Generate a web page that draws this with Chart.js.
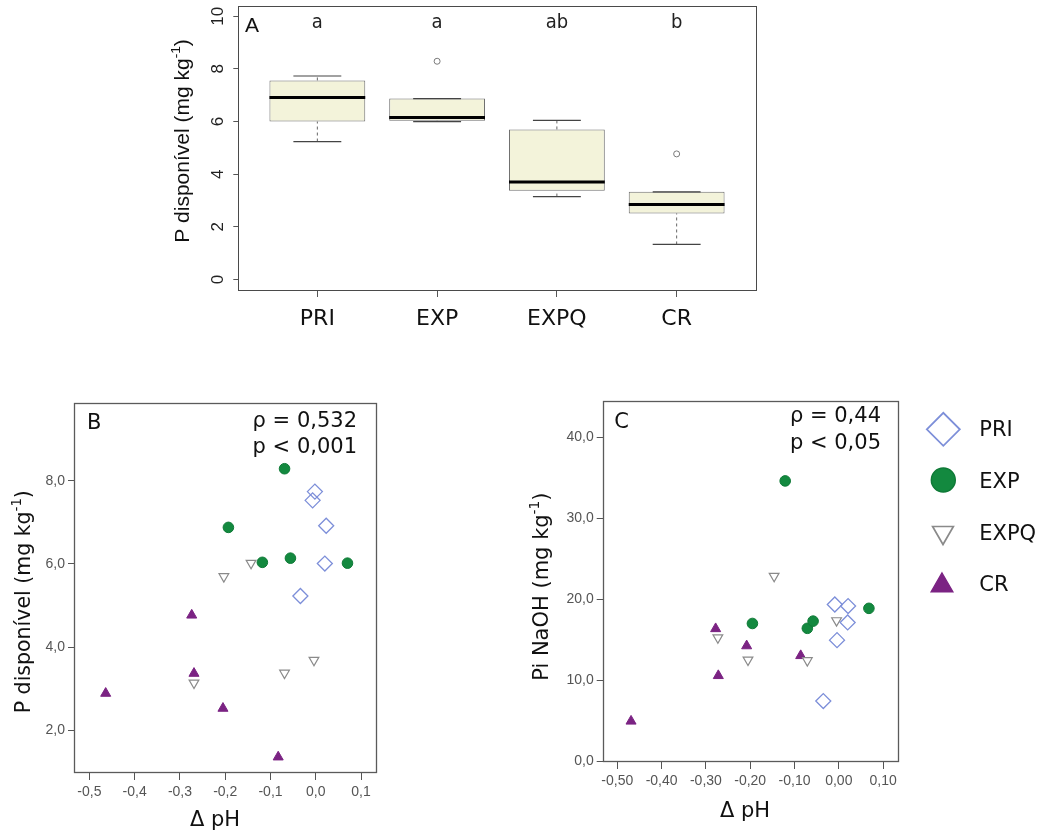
<!DOCTYPE html>
<html><head><meta charset="utf-8">
<script src="https://cdn.jsdelivr.net/npm/chart.js@4/dist/chart.umd.min.js"></script>
<style>
html,body{margin:0;padding:0;background:#fff;width:1042px;height:836px;overflow:hidden;position:relative}
canvas{position:absolute}
</style></head><body>
<canvas id="cA" width="630" height="345" style="left:150px;top:0px;width:630px;height:345px"></canvas>
<canvas id="cB" width="400" height="446" style="left:0px;top:390px;width:400px;height:446px"></canvas>
<canvas id="cC" width="522" height="446" style="left:520px;top:390px;width:522px;height:446px"></canvas>
<script>
// ---------------- data ----------------
const groups   = ['PRI', 'EXP', 'EXPQ', 'CR'];
const boxMin   = [5.24, 6.00, 3.15, 1.33];
const boxQ1    = [6.00, 6.03, 3.37, 2.51];
const boxMed   = [6.91, 6.15, 3.70, 2.85];
const boxQ3    = [7.56, 6.87, 5.70, 3.33];
const boxMax   = [7.73, 6.87, 6.04, 3.33];
const outliers = [[], [8.29], [], [4.77]];
const letters  = ['a', 'a', 'ab', 'b'];
const aYTicks  = [0, 2, 4, 6, 8, 10];

// panel B: delta pH vs P disponivel
const bPRI  = [[-0.002, 7.74], [-0.007, 7.53], [0.023, 6.92], [0.020, 6.01], [-0.034, 5.23]];
const bEXP  = [[-0.069, 8.29], [-0.193, 6.88], [-0.118, 6.04], [-0.056, 6.14], [0.070, 6.02]];
const bEXPQ = [[-0.143, 6.02], [-0.203, 5.70], [-0.269, 3.14], [-0.069, 3.38], [-0.004, 3.69]];
const bCR   = [[-0.274, 4.77], [-0.269, 3.37], [-0.464, 2.89], [-0.205, 2.53], [-0.083, 1.36]];
const bXTicks = [-0.5, -0.4, -0.3, -0.2, -0.1, 0, 0.1];
const bYTicks = [2, 4, 6, 8];

// panel C: delta pH vs Pi NaOH
const cPRI  = [[-0.009, 19.35], [0.021, 19.15], [0.020, 17.13], [-0.004, 14.94], [-0.035, 7.41]];
const cEXP  = [[-0.121, 34.62], [-0.195, 17.00], [-0.071, 16.40], [-0.058, 17.29], [0.068, 18.87]];
const cEXPQ = [[-0.146, 22.85], [-0.273, 15.25], [-0.205, 12.50], [-0.071, 12.42], [-0.005, 17.36]];
const cCR   = [[-0.278, 16.35], [-0.272, 10.55], [-0.208, 14.23], [-0.086, 13.02], [-0.469, 4.92]];
const cXTicks = [-0.5, -0.4, -0.3, -0.2, -0.1, 0, 0.1];
const cYTicks = [0, 10, 20, 30, 40];

const bStats = ['ρ = 0,532', 'p < 0,001'];
const cStats = ['ρ = 0,44', 'p < 0,05'];

// ---------------- helpers ----------------
const BOX_HALF = 0.4, CAP_HALF = 0.2;
const SANS = '"DejaVu Sans", Verdana, sans-serif';
const ARIAL = '"Liberation Sans", Arial, sans-serif';
const NARROW = '"Liberation Sans Narrow", "DejaVu Sans Condensed", sans-serif';

function fmt(v, d) { return (v < 0 ? '-' : '') + Math.abs(v).toFixed(d).replace('.', ','); }
function fixedTicks(arr) { return s => { s.ticks = arr.map(v => ({ value: v })); }; }
function pts(a) { return a.map(p => ({ x: p[0], y: p[1] })); }

function vTitle(ctx, x, cy, main, sup, tail, size, family, color) {
  ctx.save();
  ctx.translate(x, cy); ctx.rotate(-Math.PI / 2);
  const big = size + 'px ' + family, small = (size * 0.65) + 'px ' + family;
  ctx.font = big; const w1 = ctx.measureText(main).width, w3 = ctx.measureText(tail).width;
  ctx.font = small; const w2 = ctx.measureText(sup).width;
  let px = -(w1 + w2 + w3) / 2;
  ctx.fillStyle = color; ctx.textBaseline = 'alphabetic'; ctx.textAlign = 'left';
  ctx.font = big; ctx.fillText(main, px, 0); px += w1;
  ctx.font = small; ctx.fillText(sup, px, -size * 0.42); px += w2;
  ctx.font = big; ctx.fillText(tail, px, 0);
  ctx.restore();
}
function frame(ctx, a, color, lw) {
  ctx.save(); ctx.strokeStyle = color; ctx.lineWidth = lw;
  ctx.strokeRect(Math.round(a.left) + 0.5, Math.round(a.top) + 0.5,
                 Math.round(a.right) - Math.round(a.left), Math.round(a.bottom) - Math.round(a.top));
  ctx.restore();
}
function text(ctx, s, x, y, font, align, color) {
  ctx.save(); ctx.font = font; ctx.textAlign = align; ctx.textBaseline = 'alphabetic';
  ctx.fillStyle = color; ctx.fillText(s, x, y); ctx.restore();
}

// ---------------- panel A : boxplot ----------------
const medianSegs = groups.flatMap((g, i) => [
  { x: i + 1 - BOX_HALF, y: boxMed[i] }, { x: i + 1 + BOX_HALF, y: boxMed[i] }, { x: i + 1, y: null }]);
const whiskerSegs = groups.flatMap((g, i) => [
  { x: i + 1, y: boxQ3[i] }, { x: i + 1, y: boxMax[i] }, { x: i + 1, y: null },
  { x: i + 1, y: boxMin[i] }, { x: i + 1, y: boxQ1[i] }, { x: i + 1, y: null }]);
const capSegs = groups.flatMap((g, i) => [
  { x: i + 1 - CAP_HALF, y: boxMax[i] }, { x: i + 1 + CAP_HALF, y: boxMax[i] }, { x: i + 1, y: null },
  { x: i + 1 - CAP_HALF, y: boxMin[i] }, { x: i + 1 + CAP_HALF, y: boxMin[i] }, { x: i + 1, y: null }]);
const outlierPts = groups.flatMap((g, i) => outliers[i].map(v => ({ x: i + 1, y: v })));

const plugA = {
  id: 'plugA',
  afterDraw(chart) {
    const ctx = chart.ctx, a = chart.chartArea, ys = chart.scales.y, xs = chart.scales.x;
    frame(ctx, a, '#4a4a4a', 1);
    ctx.save();
    ctx.font = '17px ' + ARIAL; ctx.fillStyle = '#222'; ctx.textAlign = 'center'; ctx.textBaseline = 'middle';
    aYTicks.forEach(v => {
      ctx.save(); ctx.translate(68.5, ys.getPixelForValue(v)); ctx.rotate(-Math.PI / 2);
      ctx.fillText(String(v), 0, 0); ctx.restore();
    });
    ctx.restore();
    letters.forEach((l, i) => text(ctx, l, xs.getPixelForValue(i + 1), 28, '20px ' + NARROW, 'center', '#222'));
    text(ctx, 'A', 95, 31.5, '21px ' + ARIAL, 'left', '#111');
    vTitle(ctx, 39, 141, 'P disponível (mg kg', '-1', ')', 21, ARIAL, '#111');
  }
};

new Chart(document.getElementById('cA'), {
  type: 'bar',
  data: {
    datasets: [
      { type: 'line', data: medianSegs, borderColor: '#000', borderWidth: 3, pointRadius: 0, spanGaps: false, order: 0 },
      { type: 'scatter', data: outlierPts, pointStyle: 'circle', pointRadius: 3, pointBackgroundColor: '#fff',
        pointBorderColor: '#7a7a7a', pointBorderWidth: 1, order: 1 },
      { type: 'line', data: capSegs, borderColor: '#444', borderWidth: 1.2, pointRadius: 0, spanGaps: false, order: 2 },
      { type: 'line', data: whiskerSegs, borderColor: '#666', borderWidth: 1, borderDash: [3, 3], pointRadius: 0, spanGaps: false, order: 3 },
      { type: 'bar', data: groups.map((g, i) => ({ x: i + 1, y: [boxQ1[i], boxQ3[i]] })),
        backgroundColor: '#F3F3DA', borderColor: '#6e6e6e', borderWidth: 1, borderSkipped: false,
        barPercentage: 0.8, categoryPercentage: 1, grouped: false, order: 4 }
    ]
  },
  options: {
    responsive: false, animation: false, events: [],
    layout: { padding: { left: 0, right: 24.3, top: 5.7, bottom: 0 } },
    plugins: { legend: { display: false }, tooltip: { enabled: false } },
    scales: {
      x: { type: 'linear', min: 0.34, max: 4.66, offset: false,
        afterBuildTicks: fixedTicks(groups.map((g, i) => i + 1)),
        ticks: { callback: v => groups[Math.round(v) - 1], font: { family: SANS, size: 22 }, color: '#111',
                 padding: 9, autoSkip: false, maxRotation: 0, minRotation: 0 },
        grid: { offset: false, drawOnChartArea: false, drawTicks: true, tickLength: 7, color: '#555' },
        border: { display: false },
        afterFit: s => { s.height = 55; } },
      y: { type: 'linear', min: -0.4, max: 10.4,
        afterBuildTicks: fixedTicks(aYTicks),
        ticks: { display: false },
        grid: { drawOnChartArea: false, drawTicks: true, tickLength: 5, color: '#555' },
        border: { display: false },
        afterFit: s => { s.width = 88.3; } }
    }
  },
  plugins: [plugA]
});

// ---------------- panels B & C : scatter ----------------
const styles = {
  PRI:  { pointStyle: 'rectRot', pointRadius: 7.5, pointBackgroundColor: 'rgba(255,255,255,0)', pointBorderColor: '#7D8FD9', pointBorderWidth: 1.3 },
  EXP:  { pointStyle: 'circle', pointRadius: 5.3, pointBackgroundColor: '#13893F', pointBorderColor: '#0F7A37', pointBorderWidth: 1 },
  EXPQ: { pointStyle: 'triangle', pointRotation: 180, pointRadius: 5.6, pointBackgroundColor: '#fff', pointBorderColor: '#8A8A8A', pointBorderWidth: 1.2 },
  CR:   { pointStyle: 'triangle', pointRotation: 0, pointRadius: 5.8, pointBackgroundColor: '#7B2383', pointBorderColor: '#7B2383', pointBorderWidth: 1 }
};
function ds(name, arr) { return Object.assign({ label: name, data: pts(arr), showLine: false }, styles[name]); }

function scatterOpts(xmin, xmax, ymin, ymax, xt, yt, xd, yd, pad, yW, xH) {
  return {
    responsive: false, animation: false, events: [],
    layout: { padding: pad },
    plugins: { legend: { display: false }, tooltip: { enabled: false } },
    scales: {
      x: { type: 'linear', min: xmin, max: xmax,
        afterBuildTicks: fixedTicks(xt),
        ticks: { callback: v => fmt(v, xd), font: { family: ARIAL, size: 14 }, color: '#555', padding: 4,
                 autoSkip: false, maxRotation: 0, minRotation: 0 },
        grid: { drawOnChartArea: false, drawTicks: true, tickLength: 8, color: '#555' },
        border: { display: false },
        afterFit: s => { s.height = xH; } },
      y: { type: 'linear', min: ymin, max: ymax,
        afterBuildTicks: fixedTicks(yt),
        ticks: { callback: v => fmt(v, yd), font: { family: ARIAL, size: 14 }, color: '#555', padding: 3 },
        grid: { drawOnChartArea: false, drawTicks: true, tickLength: 6, color: '#555' },
        border: { display: false },
        afterFit: s => { s.width = yW; } }
    }
  };
}

const plugB = {
  id: 'plugB',
  afterDraw(chart) {
    const ctx = chart.ctx;
    frame(ctx, chart.chartArea, '#5a5a5a', 1.3);
    text(ctx, 'B', 87, 39.3, '21px ' + SANS, 'left', '#111');
    text(ctx, bStats[0], 357, 37.3, '21px ' + SANS, 'right', '#111');
    text(ctx, bStats[1], 357, 63.3, '21px ' + SANS, 'right', '#111');
    text(ctx, 'Δ pH', 215, 436, '21px ' + SANS, 'center', '#111');
    vTitle(ctx, 29.5, 211.7, 'P disponível (mg kg', '-1', ')', 20.5, SANS, '#111');
  }
};

new Chart(document.getElementById('cB'), {
  type: 'scatter',
  data: { datasets: [ds('PRI', bPRI), ds('EXP', bEXP), ds('EXPQ', bEXPQ), ds('CR', bCR)] },
  options: scatterOpts(-0.534, 0.133, 1.0, 9.87, bXTicks, bYTicks, 1, 1,
                       { left: 0, right: 24, top: 13, bottom: 0 }, 74, 64),
  plugins: [plugB]
});

const legendPos = [[423.3, 39.3, 16.5], [423.3, 90, 12], [423, 142.5, 12], [422, 195.5, 12.5]];
const legendTextY = [46, 97.5, 149.5, 200.5];

function drawMark(ctx, st, x, y, r) {
  ctx.save();
  ctx.fillStyle = st.pointBackgroundColor; ctx.strokeStyle = st.pointBorderColor; ctx.lineWidth = st.pointBorderWidth * 1.4;
  if (Chart.helpers && Chart.helpers.drawPoint) {
    Chart.helpers.drawPoint(ctx, { pointStyle: st.pointStyle, rotation: st.pointRotation || 0, radius: r, borderWidth: st.pointBorderWidth * 1.4 }, x, y);
  } else {
    ctx.beginPath();
    if (st.pointStyle === 'circle') ctx.arc(x, y, r, 0, Math.PI * 2);
    else if (st.pointStyle === 'rectRot') { ctx.moveTo(x, y - r); ctx.lineTo(x + r, y); ctx.lineTo(x, y + r); ctx.lineTo(x - r, y); ctx.closePath(); }
    else {
      let rad = (st.pointRotation || 0) * Math.PI / 180;
      for (let k = 0; k < 3; k++) { const px = x + Math.sin(rad) * r, py = y - Math.cos(rad) * r; k ? ctx.lineTo(px, py) : ctx.moveTo(px, py); rad += 2 * Math.PI / 3; }
      ctx.closePath();
    }
    ctx.fill(); ctx.stroke();
  }
  ctx.restore();
}

const plugC = {
  id: 'plugC',
  afterDraw(chart) {
    const ctx = chart.ctx;
    frame(ctx, chart.chartArea, '#5a5a5a', 1.3);
    text(ctx, 'C', 94.3, 38.3, '21px ' + SANS, 'left', '#111');
    text(ctx, cStats[0], 361, 32.3, '21px ' + SANS, 'right', '#111');
    text(ctx, cStats[1], 361, 59, '21px ' + SANS, 'right', '#111');
    text(ctx, 'Δ pH', 225, 427, '21px ' + SANS, 'center', '#111');
    vTitle(ctx, 27.5, 196.7, 'Pi NaOH (mg kg', '-1', ')', 21, SANS, '#111');
    groups.forEach((g, i) => {
      const p = legendPos[i];
      drawMark(ctx, styles[g], p[0], p[1], p[2]);
      text(ctx, g, 459.3, legendTextY[i], '21px ' + SANS, 'left', '#111');
    });
  }
};

new Chart(document.getElementById('cC'), {
  type: 'scatter',
  data: { datasets: [ds('PRI', cPRI), ds('EXP', cEXP), ds('EXPQ', cEXPQ), ds('CR', cCR)] },
  options: scatterOpts(-0.533, 0.133, 0, 44.45, cXTicks, cYTicks, 2, 1,
                       { left: 0, right: 144.3, top: 5, bottom: 0 }, 82.7, 75),
  plugins: [plugC]
});
</script>
</body></html>
